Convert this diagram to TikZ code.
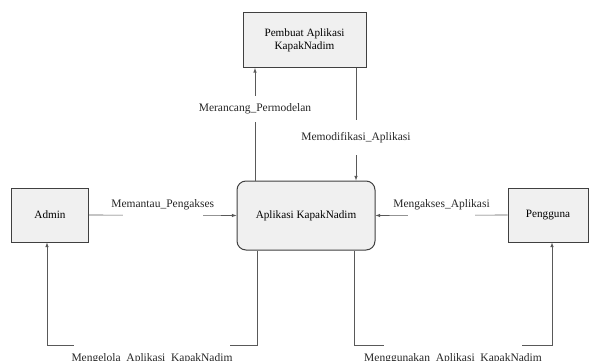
\documentclass[tikz,border=0pt]{standalone}
\usepackage{fontspec}
\setmainfont{Liberation Serif}
\usetikzlibrary{scopes}

\begin{document}
\begin{tikzpicture}[x=1pt,y=-1pt,
    entity/.style={rectangle,draw=black!75,fill=black!6,line width=1pt,font=\fontsize{11.2}{13}\selectfont,align=center,inner sep=0pt},
    process/.style={entity,rounded corners=9pt},
    flow/.style={>=latex,draw=black!65,line width=0.6pt},
    lbl/.style={fill=white,text=black!85,font=\fontsize{11.5}{13}\selectfont,inner ysep=1pt},
]
\useasboundingbox (0,0) rectangle (591,361);

    %%%
    % External entities and the process
    \node[entity,minimum width=123pt,minimum height=55pt] (maker) at (304.5,40) {Pembuat Aplikasi\\KapakNadim};
    \node[entity,minimum width=77pt,minimum height=54pt] (admin) at (50,215) {Admin};
    \node[process,minimum width=138pt,minimum height=69pt] (app) at (306,215.5) {Aplikasi KapakNadim};
    \node[entity,minimum width=80pt,minimum height=54pt] (user) at (548,215) {Pengguna};

    % bend points of the flows
    \coordinate (rancang) at (255,0);
    \coordinate (modif) at (356,0);
    \coordinate (kelolaR) at (257,345);
    \coordinate (kelolaL) at (47,345);
    \coordinate (gunaL) at (354,345);
    \coordinate (gunaR) at (552,345);

    %%%
    % Data flows
    {[flow,->]
        \draw (admin.east) -- (app.west)
            node[lbl,midway,anchor=base,yshift=8pt,text depth=9pt,inner xsep=-11.5pt] {Memantau\_Pengakses};
        \draw (user.west) -- (app.east)
            node[lbl,midway,anchor=base,yshift=8pt,text depth=9pt,inner xsep=-14.5pt] {Mengakses\_Aplikasi};
        \draw (app.north -| rancang) -- (maker.south -| rancang)
            node[lbl,pos=0.64,minimum height=26pt] {Merancang\_Permodelan};
        \draw (maker.south -| modif) -- (app.north -| modif)
            node[lbl,pos=0.62,minimum height=35pt] {Memodifikasi\_Aplikasi};
        \draw (app.south -| kelolaR) -- (kelolaR) -- (kelolaL)
            node[lbl,midway,anchor=north,yshift=2pt,text height=17pt,inner xsep=-2pt] {Mengelola\_Aplikasi\_KapakNadim}
            -- (admin.south -| kelolaL);
        \draw (app.south -| gunaL) -- (gunaL) -- (gunaR)
            node[lbl,midway,anchor=north,yshift=2pt,text height=17pt,inner xsep=-19.5pt] {Menggunakan\_Aplikasi\_KapakNadim}
            -- (user.south -| gunaR);
    }

\end{tikzpicture}
\end{document}
